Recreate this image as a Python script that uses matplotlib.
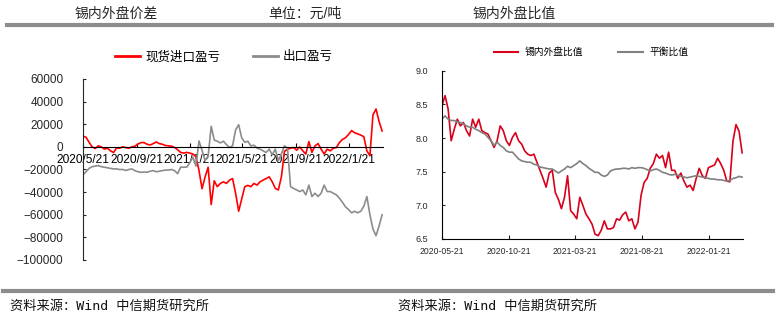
import numpy as np
import pandas as pd
import matplotlib
matplotlib.use('Agg')
import matplotlib.pyplot as plt
from matplotlib.lines import Line2D
from matplotlib.ticker import FuncFormatter

plt.rcParams['font.family'] = ['Liberation Sans', 'Noto Sans CJK SC', 'DejaVu Sans']
plt.rcParams['axes.unicode_minus'] = True

# weekly samples, starting 2020-05-21
dates = pd.date_range('2020-05-21', periods=99, freq='7D')

# left panel: import / export profit (yuan per tonne)
import_profit = [
    9500, 8500, 4000, 0, -1500, 900, 0, -2000, -1200, -3500,
    -5000, -1000, -1200, 0, -600, -1200, 0, 600, 2500, 3800,
    3800, 2300, 1700, 2900, 4300, 2900, 2300, 1200, 900, 600,
    -500, -2500, -5000, -5500, -4900, -5500, -6300, -8500, -20800, -37000,
    -26500, -18000, -51000, -30000, -35200, -32300, -30900, -32300, -29400, -28000,
    -41000, -56900, -46000, -35200, -34000, -35200, -32300, -33800, -30900, -29400,
    -28000, -26500, -30900, -36700, -38100, -26500, -4000, -2000, -1200, -600,
    -2900, 0, -3500, -6300, 4600, -4900, 900, 2900, -2000, -6300,
    -2000, -3500, -1200, -600, 3800, 6600, 8100, 11000, 14400, 12400,
    11500, 10400, 9000, -3500, -7800, 28300, 33500, 22500, 14000,
]
export_profit = [
    -24500, -22000, -19000, -17500, -17000, -16500, -17500, -18000, -18500, -19000,
    -19500, -19500, -20000, -20000, -20800, -20000, -19500, -21000, -22000, -22500,
    -22200, -22500, -21500, -21000, -22000, -21500, -21000, -20500, -20500, -20000,
    -21000, -23700, -17900, -18000, -17900, -14000, -9000, -17000, 5200, -3000,
    -12100, -8000, 18200, 6000, 5000, 3500, 5000, 2000, -500, 1000,
    15000, 19600, 8000, 4000, 5000, 800, 1500, -1000, -2000, -3500,
    -5000, -2000, -7000, -2000, -12100, -6300, 900, -1000, -35200, -36700,
    -38100, -39500, -38100, -42400, -33800, -43900, -41000, -43900, -41000, -33800,
    -39500, -39500, -41000, -42400, -45300, -49000, -53000, -55400, -58300, -56900,
    -58300, -56900, -52500, -43900, -60000, -72700, -78500, -70000, -60000,
]

# right panel: domestic / foreign price ratio and balance ratio
price_ratio = [
    8.48, 8.63, 8.43, 7.96, 8.13, 8.28, 8.18, 8.23, 8.11, 8.03,
    8.28, 8.16, 8.28, 8.11, 8.08, 8.06, 7.96, 7.86, 7.96, 8.18,
    8.11, 7.96, 7.89, 8.01, 8.08, 7.96, 7.91, 7.81, 7.76, 7.74,
    7.76, 7.64, 7.52, 7.40, 7.27, 7.48, 7.52, 7.19, 7.09, 6.95,
    7.12, 7.44, 6.92, 6.87, 6.80, 7.12, 7.00, 6.87, 6.80, 6.72,
    6.57, 6.55, 6.63, 6.77, 6.65, 6.65, 6.67, 6.80, 6.78, 6.86,
    6.90, 6.77, 6.80, 6.65, 6.75, 7.15, 7.34, 7.40, 7.55, 7.62,
    7.76, 7.70, 7.74, 7.56, 7.79, 7.52, 7.52, 7.40, 7.48, 7.36,
    7.27, 7.30, 7.22, 7.40, 7.55, 7.44, 7.40, 7.56, 7.58, 7.60,
    7.70, 7.62, 7.52, 7.36, 7.35, 7.95, 8.20, 8.10, 7.78,
]
balance_ratio = [
    8.28, 8.33, 8.28, 8.26, 8.26, 8.24, 8.23, 8.21, 8.18, 8.16,
    8.16, 8.13, 8.11, 8.08, 8.06, 8.01, 7.96, 7.89, 7.94, 7.89,
    7.86, 7.81, 7.79, 7.79, 7.74, 7.69, 7.66, 7.65, 7.64, 7.64,
    7.61, 7.60, 7.57, 7.56, 7.55, 7.54, 7.54, 7.51, 7.48, 7.51,
    7.54, 7.58, 7.56, 7.59, 7.62, 7.66, 7.62, 7.59, 7.55, 7.52,
    7.49, 7.49, 7.45, 7.43, 7.45, 7.51, 7.53, 7.54, 7.54, 7.55,
    7.55, 7.54, 7.56, 7.55, 7.56, 7.56, 7.55, 7.53, 7.51, 7.53,
    7.54, 7.52, 7.49, 7.48, 7.46, 7.45, 7.46, 7.45, 7.43, 7.42,
    7.41, 7.42, 7.43, 7.44, 7.43, 7.42, 7.41, 7.40, 7.39, 7.39,
    7.38, 7.38, 7.37, 7.36, 7.37, 7.40, 7.41, 7.43, 7.42,
]

left_ticks = ['2020-05-21', '2020-09-21', '2021-01-21', '2021-05-21', '2021-09-21', '2022-01-21']
right_ticks = ['2020-05-21', '2020-10-21', '2021-03-21', '2021-08-21', '2022-01-21']
x_end = pd.Timestamp('2022-04-09')

W, H = 777, 323
fig = plt.figure(figsize=(W / 100, H / 100), dpi=100)


def box(x0, y0, x1, y1):
    # pixel box (top-left origin) -> figure fraction
    return [x0 / W, 1 - y1 / H, (x1 - x0) / W, (y1 - y0) / H]


dark = '#262626'

# header / footer
fig.text(116 / W, 1 - 14 / H, '锡内外盘价差', ha='center', va='center', fontsize=10, color=dark)
fig.text(305 / W, 1 - 14 / H, '单位：元/吨', ha='center', va='center', fontsize=10, color=dark)
fig.text(514 / W, 1 - 14 / H, '锡内外盘比值', ha='center', va='center', fontsize=10, color=dark)
fig.add_artist(Line2D([7 / W, 772 / W], [1 - 25 / H, 1 - 25 / H], color='#8c8c8c', lw=3, transform=fig.transFigure))
fig.add_artist(Line2D([3 / W, 773 / W], [1 - 291 / H, 1 - 291 / H], color='#8c8c8c', lw=3, transform=fig.transFigure))
src = '资料来源：Wind 中信期货研究所'
for xs in (10, 398):
    fig.text(xs / W, 1 - 306 / H, src, ha='left', va='center', fontsize=9.5, color='#111111',
             family=['DejaVu Sans Mono', 'Noto Sans CJK SC'])

# ---- left panel ----
ax1 = fig.add_axes(box(83, 79, 383, 260))
l1, = ax1.plot(dates, import_profit, color='#ff0000', lw=1.2)
l2, = ax1.plot(dates, export_profit, color='#8c8c8c', lw=1.2)
ax1.set_xlim(dates[0], x_end)
ax1.set_ylim(-100000, 60000)
ax1.set_yticks(np.arange(-100000, 60001, 20000))
ax1.yaxis.set_major_formatter(FuncFormatter(lambda v, p: f'{int(v)}'.replace('-', '\u2212')))
ax1.set_xticks(pd.to_datetime(left_ticks))
ax1.set_xticklabels([f'{d.year}/{d.month}/{d.day}' for d in pd.to_datetime(left_ticks)])
for s in ('top', 'right'):
    ax1.spines[s].set_visible(False)
ax1.spines['bottom'].set_position(('data', 0))
ax1.spines['bottom'].set_color('black')
ax1.spines['left'].set_color(dark)
ax1.tick_params(axis='x', direction='in', length=3, labelsize=8.6, pad=5, colors='black')
ax1.tick_params(axis='y', direction='in', length=2, labelsize=8.5, pad=14, colors=dark)
fig.legend([l1, l2], ['现货进口盈亏', '出口盈亏'], loc='center', bbox_to_anchor=(224 / W, 1 - 57 / H),
           ncol=2, frameon=False, fontsize=9, handlelength=2.0, handletextpad=0.4,
           columnspacing=2.6, borderpad=0)
for h in fig.legends[-1].get_lines():
    h.set_linewidth(2)

# ---- right panel ----
ax2 = fig.add_axes(box(442, 70.7, 743, 239))
r1, = ax2.plot(dates, price_ratio, color='#d9001b', lw=1.2)
r2, = ax2.plot(dates, balance_ratio, color='#808080', lw=1.2)
ax2.set_xlim(dates[0], x_end)
ax2.set_ylim(6.5, 9.0)
ax2.set_yticks([6.5, 7.0, 7.5, 8.0, 8.5, 9.0])
ax2.yaxis.set_major_formatter(FuncFormatter(lambda v, p: f'{v:.1f}'))
ax2.set_xticks(pd.to_datetime(right_ticks))
ax2.set_xticklabels(right_ticks)
for s in ('top', 'right'):
    ax2.spines[s].set_visible(False)
ax2.tick_params(axis='x', direction='in', length=3, labelsize=6.2, pad=6, colors=dark)
ax2.tick_params(axis='y', direction='in', length=2, labelsize=6.5, pad=10, colors=dark)
fig.legend([r1, r2], ['锡内外盘比值', '平衡比值'], loc='center', bbox_to_anchor=(591 / W, 1 - 52 / H),
           ncol=2, frameon=False, fontsize=7, handlelength=2.5, handletextpad=0.7,
           columnspacing=3.6, borderpad=0)
for h in fig.legends[-1].get_lines():
    h.set_linewidth(1.5)

fig.savefig('out.png', dpi=100)
